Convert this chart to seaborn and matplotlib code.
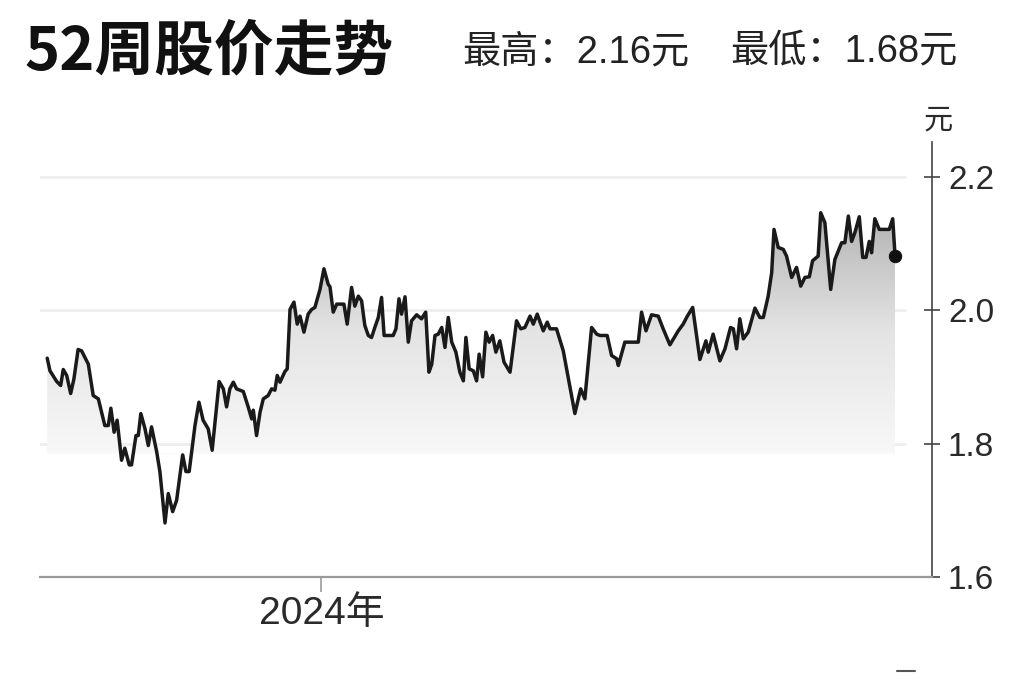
import numpy as np
import pandas as pd
import matplotlib
matplotlib.use("Agg")
import matplotlib.pyplot as plt
import matplotlib.dates as mdates
from matplotlib.colors import LinearSegmentedColormap
from matplotlib.lines import Line2D
import seaborn as sns

# 52-week price trace (days since start date, price in yuan)
start_date = "2023-09-05"
day_offsets = [
    0, 1.2, 4.1, 5.8, 6.9, 8.4, 10.1, 11.5, 13.3, 14.8, 17.7, 19.8, 22.0, 24.8, 26.3,
    27.4, 28.8, 30.1, 32.0, 33.4, 35.3, 36.3, 38.2, 39.2, 40.3, 42.1, 43.5, 44.9, 47.1,
    48.5, 50.7, 52.1, 54.0, 55.7, 58.3, 59.7, 61.1, 63.6, 65.3, 67.1, 69.3, 71.0, 74.0,
    75.8, 77.2, 78.6, 80.1, 81.5, 84.4, 86.5, 88.0, 88.7, 90.1, 91.6, 93.0, 95.1, 96.6,
    98.0, 99.0, 100.2, 102.3, 103.3, 104.5, 106.2, 107.6, 108.8, 110.5, 112.3, 113.8,
    115.2, 117.4, 119.1, 120.9, 121.7, 123.1, 124.6, 127.7, 129.1, 131.0, 132.4, 133.9,
    135.3, 136.7, 138.2, 139.6, 141.0, 142.5, 143.9, 145.0, 148.9, 150.1, 151.4, 152.5,
    154.0, 155.4, 156.8, 159.0, 161.1, 162.9, 164.3, 165.5, 166.9, 168.3, 169.8, 171.2,
    172.6, 174.1, 175.9, 177.6, 179.1, 180.2, 181.6, 183.4, 184.8, 185.9, 187.4, 188.8,
    190.2, 191.7, 193.1, 194.8, 196.6, 199.2, 202.0, 203.8, 205.6, 207.8, 209.2, 210.9,
    213.5, 215.2, 216.4, 219.2, 222.1, 227.1, 229.6, 231.4, 234.3, 236.5, 237.9, 241.0,
    242.9, 245.1, 245.8, 248.6, 254.4, 255.8, 257.7, 260.1, 263.0, 265.1, 268.0, 271.6,
    273.7, 275.5, 277.8, 280.9, 283.5, 284.5, 286.6, 289.5, 291.7, 294.1, 295.3, 296.7,
    298.1, 299.6, 301.7, 304.6, 306.7, 308.2, 310.3, 311.8, 312.8, 314.6, 316.8, 318.2,
    320.4, 322.5, 324.3, 326.1, 328.0, 329.4, 331.8, 332.9, 334.7, 337.2, 339.0, 341.9,
    343.3, 344.8, 346.2, 347.6, 349.5, 351.0, 352.4, 353.8, 354.8, 356.2, 358.1, 362.4,
    363.9, 364.9,
]
prices = [
    1.928, 1.909, 1.893, 1.887, 1.911, 1.902, 1.875, 1.897, 1.941, 1.939, 1.919, 1.872,
    1.867, 1.827, 1.827, 1.853, 1.817, 1.835, 1.775, 1.793, 1.768, 1.768, 1.812, 1.812,
    1.845, 1.822, 1.797, 1.825, 1.788, 1.758, 1.681, 1.725, 1.698, 1.715, 1.783, 1.758,
    1.758, 1.827, 1.862, 1.835, 1.822, 1.790, 1.893, 1.882, 1.855, 1.882, 1.892, 1.882,
    1.878, 1.855, 1.837, 1.850, 1.812, 1.847, 1.867, 1.872, 1.882, 1.880, 1.902, 1.892,
    1.908, 1.912, 2.001, 2.012, 1.979, 1.991, 1.967, 1.994, 2.001, 2.004, 2.031, 2.062,
    2.039, 2.035, 1.997, 2.009, 2.009, 1.979, 2.034, 2.006, 2.021, 2.014, 1.977, 1.962,
    1.959, 1.974, 1.989, 2.019, 1.962, 1.962, 1.972, 2.017, 1.994, 2.020, 1.952, 1.984,
    1.993, 1.987, 1.997, 1.907, 1.919, 1.962, 1.964, 1.974, 1.944, 1.989, 1.952, 1.937,
    1.907, 1.894, 1.959, 1.912, 1.909, 1.894, 1.934, 1.900, 1.967, 1.952, 1.962, 1.937,
    1.954, 1.922, 1.907, 1.984, 1.972, 1.974, 1.991, 1.979, 1.994, 1.969, 1.982, 1.972,
    1.972, 1.939, 1.845, 1.882, 1.867, 1.974, 1.964, 1.962, 1.962, 1.932, 1.927, 1.917,
    1.952, 1.952, 1.997, 1.969, 1.993, 1.991, 1.972, 1.948, 1.969, 1.979, 1.991, 2.004,
    1.926, 1.954, 1.937, 1.964, 1.924, 1.942, 1.974, 1.972, 1.942, 1.987, 1.957, 1.967,
    2.003, 1.989, 1.989, 2.021, 2.056, 2.121, 2.094, 2.091, 2.081, 2.049, 2.064, 2.036,
    2.049, 2.050, 2.074, 2.081, 2.146, 2.131, 2.031, 2.076, 2.101, 2.101, 2.141, 2.103,
    2.116, 2.140, 2.079, 2.079, 2.103, 2.086, 2.137, 2.121, 2.121, 2.137, 2.081,
]

title = "52周股价走势"
high_label = "最高：2.16元"
low_label = "最低：1.68元"
unit_label = "元"
y_ticks = [1.6, 1.8, 2.0, 2.2]
x_tick_dates = ["2024-01-01"]
x_tick_labels = ["2024年"]

df = pd.DataFrame({
    "date": pd.Timestamp(start_date) + pd.to_timedelta(day_offsets, unit="D"),
    "price": prices,
})

sns.set_theme(style="white")
plt.rcParams["font.family"] = ["Liberation Sans", "Noto Sans CJK SC", "DejaVu Sans"]

fig = plt.figure(figsize=(10.24, 6.82), dpi=100)
fig.patch.set_facecolor("white")
ax = fig.add_axes([40 / 1024, 1 - 577 / 682, 892 / 1024, 435 / 682])
ax.set_facecolor("white")

x_min = pd.Timestamp(start_date) - pd.Timedelta(days=3.1)
x_max = pd.Timestamp(start_date) + pd.Timedelta(days=380.8)
y_min, y_max = 1.6, 2.252
fill_floor = 1.785

# faint horizontal guides
for yv in y_ticks[1:]:
    ax.axhline(yv, xmin=0, xmax=0.97, color="#eeeeee", lw=2, zorder=0)

# gradient fill under the line
poly = ax.fill_between(df["date"], df["price"], fill_floor, facecolor="none",
                       edgecolor="none", zorder=1)
grad_cmap = LinearSegmentedColormap.from_list("fade", ["#f8f8f8", "#e4e4e4", "#b2b2b2"])
grad = np.linspace(0, 1, 256).reshape(-1, 1)
x0, x1 = mdates.date2num(df["date"].iloc[0]), mdates.date2num(df["date"].iloc[-1])
img = ax.imshow(grad, cmap=grad_cmap, aspect="auto", origin="lower",
                extent=[x0, x1, fill_floor, 2.15], zorder=1, interpolation="bilinear")
img.set_clip_path(poly.get_paths()[0], transform=ax.transData)

sns.lineplot(data=df, x="date", y="price", ax=ax, color="#1a1a1a", lw=2.5, zorder=3)
sns.scatterplot(x=[df["date"].iloc[-1]], y=[df["price"].iloc[-1]], ax=ax,
                s=80, color="#111111", edgecolor="#111111", zorder=4)

ax.set_xlim(x_min, x_max)
ax.set_ylim(y_min, y_max)
ax.set_xlabel("")
ax.set_ylabel("")

ax.yaxis.tick_right()
ax.set_yticks(y_ticks)
ax.set_yticklabels([f"{v:.1f}" for v in y_ticks])
ax.tick_params(axis="y", which="both", direction="inout", length=11, width=1.2,
               color="#444444", labelsize=24, labelcolor="#2a2a2a", pad=6,
               right=True, left=False)

ax.set_xticks(pd.to_datetime(x_tick_dates))
ax.set_xticklabels(x_tick_labels)
ax.tick_params(axis="x", direction="out", length=11, width=1.2, color="#999999",
               labelsize=28, labelcolor="#2a2a2a", pad=3, bottom=True)

for side in ["left", "top"]:
    ax.spines[side].set_visible(False)
ax.spines["bottom"].set_color("#999999")
ax.spines["bottom"].set_linewidth(1.6)
ax.spines["right"].set_color("#444444")
ax.spines["right"].set_linewidth(1.2)
ax.grid(False)

# headings
fig.text(25 / 1024, 1 - 52 / 682, title, fontsize=43, fontweight="bold",
         family=["Noto Sans CJK SC"], color="#111111", va="center", ha="left")
fig.text(462 / 1024, 1 - 52 / 682, high_label, fontsize=27.5, color="#222222",
         va="center", ha="left")
fig.text(730 / 1024, 1 - 52 / 682, low_label, fontsize=27.5, color="#222222",
         va="center", ha="left")
fig.text(938 / 1024, 1 - 121 / 682, unit_label, fontsize=21, color="#2a2a2a",
         va="center", ha="center")
fig.add_artist(Line2D([897 / 1024, 915 / 1024], [1 - 671 / 682, 1 - 671 / 682],
                      color="#555555", lw=1.5))

fig.savefig("out.png", dpi=100, facecolor="white")
